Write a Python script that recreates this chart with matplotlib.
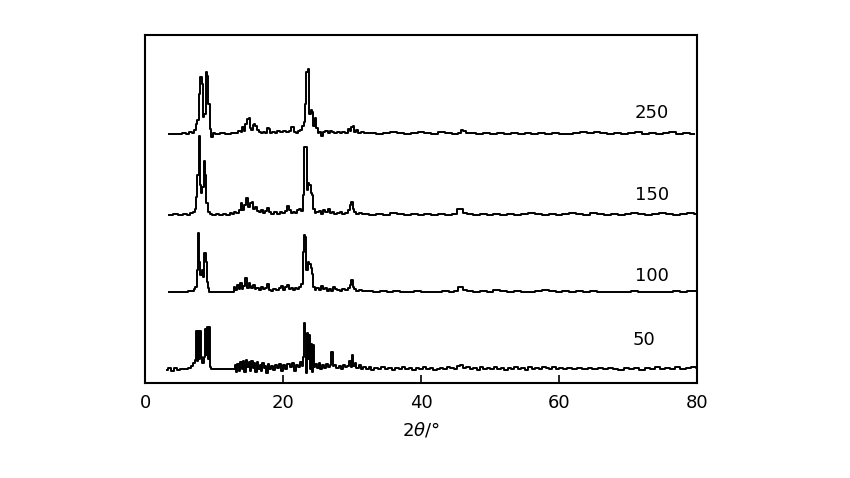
import matplotlib
matplotlib.use('Agg')
import matplotlib.pyplot as plt

# XRD traces: (2theta, intensity above own baseline)
xrd_250 = [(3.5,0),(5.0,0),(5.8,1),(6.2,0),(6.6,2),(7.0,1),(7.3,4),(7.5,10),(7.7,14),(7.9,40),(8.1,57),(8.3,50),
           (8.5,17),(8.7,20),(8.9,62),(9.1,58),(9.3,30),(9.5,5),(9.7,-3),(9.9,1),(10.5,0),(11.2,1),(12.0,0),(12.8,1),
           (13.3,1),(13.7,3),(14.0,2),(14.2,7),(14.4,3),(14.7,10),(14.9,15),(15.1,16),(15.3,6),(15.5,4),(15.7,9),
           (15.9,10),(16.1,8),(16.3,4),(16.6,2),(17.0,1),(17.3,2),(17.6,1),(17.8,6),(18.0,5),(18.2,1),(18.6,2),
           (19.0,1),(19.4,3),(19.8,2),(20.2,3),(20.6,2),(21.0,3),(21.2,7),(21.5,7),(21.7,2),(22.0,1),(22.3,3),
           (22.6,4),(22.9,8),(23.1,12),(23.3,30),(23.5,62),(23.7,65),(23.9,20),(24.1,24),(24.3,22),(24.5,8),
           (24.7,16),(24.9,6),(25.1,1),(25.4,2),(25.7,-2),(26.0,2),(26.3,3),(26.6,1),(27.0,3),(27.3,2),(27.6,1),
           (28.0,2),(28.4,1),(28.8,2),(29.2,1),(29.5,5),(29.8,3),(30.0,7),(30.2,8),(30.4,2),(30.7,4),(31.0,1),
           (31.5,2),(32.0,1),(33.0,1),(34.0,0),(35.0,1),(36.0,2),(37.0,1),(38.0,0),(39.0,1),(40.0,2),(41.0,1),
           (42.0,0),(43.0,2),(44.0,1),(45.0,0),(45.7,1),(46.0,4),(46.3,3),(46.7,1),(47.5,1),(48.5,0),(49.5,1),
           (50.5,0),(51.5,1),(52.5,0),(53.5,1),(54.5,0),(55.5,1),(56.5,0),(57.5,1),(58.5,0),(59.5,1),(60.5,0),
           (61.5,0),(62.5,1),(63.5,2),(64.5,1),(65.5,2),(66.5,1),(67.5,0),(68.5,1),(69.5,0),(70.5,1),(71.5,2),
           (72.5,0),(73.5,1),(74.5,0),(75.5,1),(76.5,2),(77.5,0),(78.5,1),(79.6,0)]

xrd_150 = [(3.5,0),(4.5,1),(5.2,0),(5.8,1),(6.3,0),(6.8,2),(7.1,3),(7.3,6),(7.5,18),(7.7,40),(7.85,79),(8.0,30),
           (8.2,22),(8.4,28),(8.6,54),(8.8,40),(9.0,12),(9.2,3),(9.5,1),(10.0,0),(10.5,1),(11.0,0),(11.5,1),
           (12.0,0),(12.5,2),(12.8,1),(13.1,3),(13.4,2),(13.7,5),(14.0,12),(14.2,5),(14.5,10),(14.8,17),(15.0,8),
           (15.3,12),(15.6,13),(15.8,6),(16.1,8),(16.4,4),(16.7,3),(17.0,5),(17.3,2),(17.6,4),(17.8,7),(18.1,3),
           (18.5,1),(18.9,3),(19.3,1),(19.7,3),(20.1,2),(20.5,4),(20.8,9),(21.0,5),(21.3,2),(21.6,3),(21.9,2),
           (22.2,5),(22.5,6),(22.8,4),(23.0,20),(23.15,68),(23.35,68),(23.5,25),(23.7,32),(23.9,30),(24.1,22),
           (24.3,20),(24.5,6),(24.7,2),(25.0,3),(25.3,4),(25.6,1),(26.0,5),(26.3,3),(26.6,6),(26.9,2),(27.2,3),
           (27.6,1),(28.0,2),(28.4,3),(28.8,1),(29.2,2),(29.5,5),(29.8,10),(30.0,13),(30.2,6),(30.5,3),(30.8,1),
           (31.2,2),(31.6,1),(32.0,1),(33,0),(34,1),(35,0),(36,2),(37,1),(38,0),(39,1),(40,0),(41,1),(42,0),
           (43,1),(44,0),(45,1),(45.5,6),(46.0,6),(46.3,2),(47,1),(48,0),(49,1),(50,0),(51,1),(52,0),(53,1),
           (54,0),(55,1),(56,2),(57,1),(58,0),(59,1),(60,0),(61,1),(62,2),(63,1),(64,0),(65,2),(66,1),(67,0),
           (68,1),(69,0),(70,1),(71,2),(72,1),(73,0),(74,1),(75,2),(76,1),(77,0),(78,1),(79,2),(80,1)]

xrd_100 = [(3.5,0),(5.0,0),(6.0,0),(6.5,1),(6.9,1),(7.2,3),(7.4,5),(7.6,22),(7.8,59),(7.95,30),(8.1,17),(8.3,22),
           (8.5,15),(8.7,39),(8.85,30),(9.0,10),(9.2,4),(9.4,0),(10.0,0),(11.0,0),(12.0,0),(12.8,0),(13.0,5),
           (13.2,2),(13.5,7),(13.7,3),(13.9,9),(14.1,3),(14.4,6),(14.7,14),(14.9,4),(15.1,9),(15.3,6),(15.5,4),
           (15.8,7),(16.0,3),(16.3,4),(16.6,2),(16.9,5),(17.2,3),(17.5,4),(17.8,8),(18.0,2),(18.4,1),(18.8,3),
           (19.2,2),(19.6,4),(19.9,6),(20.2,2),(20.5,5),(20.8,7),(21.0,3),(21.3,4),(21.6,2),(21.9,4),(22.2,3),
           (22.5,5),(22.8,8),(23.0,40),(23.15,57),(23.3,55),(23.5,22),(23.7,30),(23.9,28),(24.1,24),(24.3,18),
           (24.5,5),(24.7,2),(25.0,4),(25.3,2),(25.6,6),(25.9,3),(26.2,4),(26.5,1),(26.8,3),(27.1,1),(27.4,5),
           (27.7,3),(28.0,2),(28.4,1),(28.8,3),(29.2,2),(29.5,4),(29.8,7),(30.0,12),(30.2,5),(30.5,3),(30.8,1),
           (31.2,2),(31.6,1),(32.5,1),(33.5,0),(34.5,1),(35.5,0),(36.5,1),(37.5,0),(38.5,0),(39.5,1),(40.5,0),
           (41.5,0),(42.5,0),(43.5,1),(44.5,0),(45.2,1),(45.5,5),(46.0,5),(46.3,2),(47,1),(48,0),(49,1),(50,0),
           (51,2),(52,1),(53,0),(54,1),(55,0),(56,0),(57,1),(58,2),(59,1),(60,0),(61,1),(62,0),(63,1),(64,0),
           (65,1),(66,0),(67,0),(68,0),(69,0),(70,0),(71,1),(72,0),(73,0),(74,0),(75,0),(76,0),(77,1),(78,0),
           (79,1),(80,1)]

xrd_50 = [(3.2,-1),(3.6,1),(4.0,-2),(4.4,1),(4.8,-1),(5.2,0),(5.6,0),(6.0,0),(6.4,1),(6.8,3),(7.1,6),(7.3,9),
          (7.45,38),(7.6,8),(7.75,38),(7.9,10),(8.05,38),(8.2,12),(8.4,6),(8.6,12),(8.75,40),(8.9,14),(9.05,42),
          (9.2,10),(9.3,42),(9.45,2),(9.7,0),(10.5,0),(11.5,0),(12.5,0),(12.9,0),(13.1,4),(13.3,-3),(13.5,5),
          (13.7,-2),(13.9,7),(14.1,0),(14.3,8),(14.5,-3),(14.7,9),(14.9,2),(15.1,7),(15.3,-2),(15.5,8),(15.7,1),
          (15.9,6),(16.1,-3),(16.3,7),(16.5,0),(16.7,4),(16.9,-2),(17.1,6),(17.3,1),(17.5,3),(17.7,-4),(17.9,5),
          (18.1,0),(18.4,3),(18.7,-1),(19.0,4),(19.3,1),(19.6,5),(19.9,-2),(20.2,4),(20.5,0),(20.8,5),(21.1,2),
          (21.4,6),(21.7,-2),(22.0,4),(22.3,2),(22.6,7),(22.8,3),(23.0,12),(23.1,46),(23.25,35),(23.4,-4),
          (23.55,36),(23.7,10),(23.85,34),(24.0,0),(24.15,25),(24.3,-3),(24.45,24),(24.6,2),(24.8,5),(25.0,1),
          (25.3,6),(25.5,0),(25.8,4),(26.1,1),(26.4,5),(26.7,2),(26.9,4),(27.1,17),(27.3,3),(27.6,4),(27.9,1),
          (28.2,3),(28.5,0),(28.8,4),(29.1,2),(29.4,3),(29.7,8),(29.9,2),(30.1,14),(30.3,3),(30.5,6),(30.8,1),
          (31.1,4),(31.4,0),(31.8,2),(32.2,0),(32.6,2),(33.0,-1),(33.5,1),(34.0,0),(34.5,2),(35.0,0),(35.5,1),
          (36.0,-1),(36.5,1),(37.0,0),(37.5,2),(38.0,0),(38.5,1),(39.0,-1),(39.5,1),(40.0,0),(40.5,2),(41.0,0),
          (41.5,1),(42.0,-1),(42.5,0),(43.0,1),(43.5,0),(44.0,2),(44.5,1),(45.0,0),(45.5,3),(45.9,4),(46.3,1),
          (46.8,2),(47.3,0),(47.8,1),(48.3,-1),(48.8,2),(49.3,0),(49.8,1),(50.3,0),(50.8,2),(51.3,0),(51.8,1),
          (52.3,-1),(52.8,1),(53.3,0),(53.8,2),(54.3,0),(54.8,1),(55.3,-1),(55.8,2),(56.3,0),(56.8,1),(57.3,0),
          (57.8,2),(58.3,1),(58.8,0),(59.3,2),(59.8,0),(60.3,1),(60.8,0),(61.5,1),(62.2,0),(63.0,1),(63.8,0),
          (64.5,1),(65.2,0),(66.0,1),(66.8,0),(67.5,1),(68.2,0),(69.0,-1),(69.8,1),(70.5,0),(71.2,1),(72.0,-1),
          (72.8,1),(73.5,0),(74.2,2),(75.0,0),(75.8,1),(76.5,0),(77.2,2),(78.0,0),(78.8,1),(79.6,2),(80,1)]

traces = [xrd_250, xrd_150, xrd_100, xrd_50]
labels = ['250', '150', '100', '50']
offsets = [249, 168, 91, 14]
label_x = [71.0, 71.0, 71.0, 70.7]
label_y = [261, 179, 98, 34]

fig = plt.figure(figsize=(8.5, 4.78), dpi=100)
ax = fig.add_axes([0.1706, 0.1987, 0.6494, 0.7281])

for data, off, lab, lx, ly in zip(traces, offsets, labels, label_x, label_y):
    tt, inten = zip(*data)
    ax.plot(tt, [v + off for v in inten], color='black', lw=1.4, drawstyle='steps-mid')
    ax.text(lx, ly, lab, fontsize=13, ha='left', va='bottom')

ax.set_xlim(0, 80)
ax.set_ylim(0, 348)
ax.set_xticks([0, 20, 40, 60, 80])
ax.set_yticks([])
ax.tick_params(axis='x', direction='in', length=6, width=1.2, labelsize=13, pad=8)
for s in ax.spines.values():
    s.set_linewidth(1.5)
ax.set_xlabel(r'2$\theta$/°', fontsize=13, labelpad=6)

fig.savefig('out.png', dpi=100)
